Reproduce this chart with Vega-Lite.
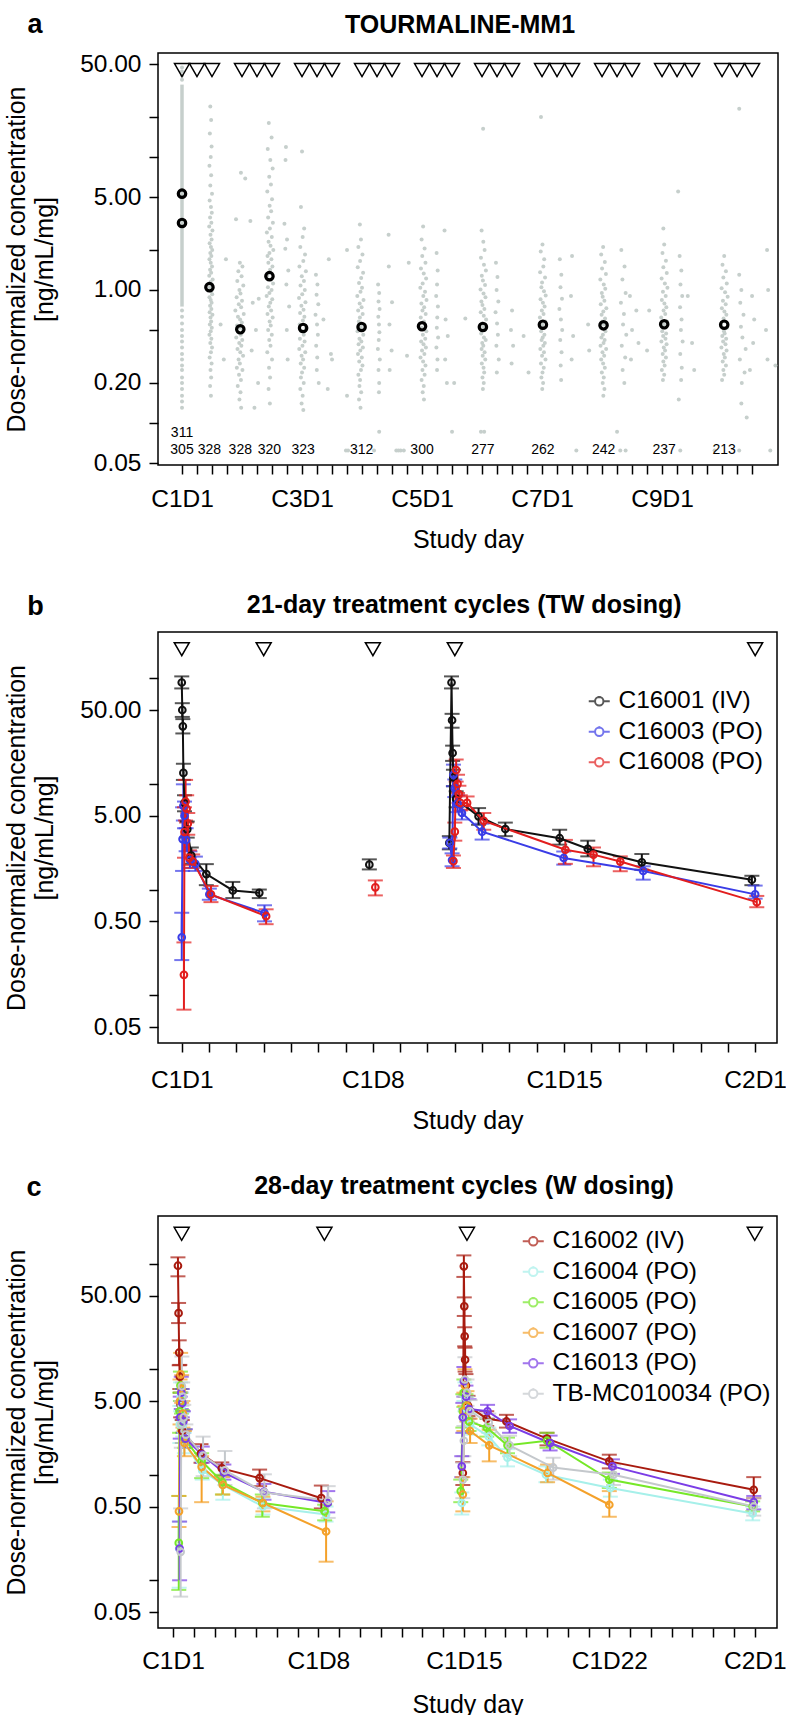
{
"$schema":"https://vega.github.io/schema/vega-lite/v6.json",
"background":"white",
"padding":{"left":3,"right":0,"top":9,"bottom":0},
"spacing":37,
"config":{"font":"Liberation Sans","view":{"stroke":"black","strokeWidth":1.5},
"axis":{"domain":false,"grid":false,"tickColor":"black","tickWidth":1.5,"tickSize":9,"labelFont":"Liberation Sans","labelFontSize":24.5,"labelColor":"black","titleFont":"Liberation Sans","titleFontSize":25,"titleFontWeight":"normal","titleColor":"black","labelOverlap":false,"labelFlush":false,"labelPadding":8}},
"resolve":{"scale":{"color":"independent"},"legend":{"color":"independent"}},
"datasets":{
"pa":[
{"d":0,"c":47},{"d":0,"c":44},{"d":0,"c":41},{"d":0,"c":38},{"d":0,"c":0.7},{"d":0,"c":0.63},{"d":0,"c":0.56},{"d":0,"c":0.5},{"d":0,"c":0.45},{"d":0,"c":0.41},{"d":0,"c":0.37},{"d":0,"c":0.33},{"d":0,"c":0.3},{"d":0,"c":0.27},{"d":0,"c":0.25},{"d":0,"c":0.22},{"d":0,"c":0.2},{"d":0,"c":0.18},{"d":0,"c":0.16},{"d":0,"c":0.145},{"d":0,"c":0.13},
{"d":13.2,"c":24},{"d":13.6,"c":19},{"d":13.0,"c":15},{"d":13.8,"c":12},{"d":13.4,"c":10},{"d":12.8,"c":8.6},{"d":13.6,"c":7.3},{"d":13.2,"c":6.1},{"d":14.0,"c":5.3},{"d":12.9,"c":4.7},{"d":13.5,"c":4.2},{"d":13.9,"c":3.8},{"d":13.1,"c":3.5},{"d":13.7,"c":3.2},{"d":12.7,"c":3.0},{"d":14.2,"c":2.8},{"d":13.3,"c":2.6},{"d":13.8,"c":2.4},{"d":12.9,"c":2.25},{"d":13.5,"c":2.1},{"d":14.1,"c":2.0},{"d":13.2,"c":1.9},{"d":13.7,"c":1.8},{"d":12.8,"c":1.7},{"d":13.4,"c":1.6},{"d":14.0,"c":1.5},{"d":13.1,"c":1.42},{"d":13.6,"c":1.35},{"d":12.7,"c":1.28},{"d":14.3,"c":1.2},{"d":13.3,"c":1.15},{"d":13.9,"c":1.1},{"d":13.0,"c":1.05},{"d":13.6,"c":0.98},{"d":14.1,"c":0.93},{"d":12.8,"c":0.88},{"d":13.4,"c":0.84},{"d":13.8,"c":0.8},{"d":13.1,"c":0.76},{"d":13.7,"c":0.72},{"d":12.9,"c":0.68},{"d":14.2,"c":0.65},{"d":13.3,"c":0.62},{"d":13.6,"c":0.58},{"d":13.0,"c":0.55},{"d":13.9,"c":0.52},{"d":13.4,"c":0.49},{"d":12.8,"c":0.46},{"d":13.7,"c":0.43},{"d":13.2,"c":0.4},{"d":14.0,"c":0.37},{"d":13.5,"c":0.34},{"d":12.9,"c":0.31},{"d":13.8,"c":0.28},{"d":13.3,"c":0.25},{"d":13.6,"c":0.22},{"d":13.1,"c":0.19},{"d":13.5,"c":0.16},{"d":20.5,"c":1.7},{"d":18,"c":0.55},{"d":19.5,"c":0.3},
{"d":27.5,"c":7.6},{"d":29.5,"c":6.9},{"d":25.2,"c":3.4},{"d":27,"c":1.6},{"d":28.2,"c":1.5},{"d":26.3,"c":1.38},{"d":27.8,"c":1.27},{"d":25.8,"c":1.17},{"d":28.6,"c":1.08},{"d":26.8,"c":1.0},{"d":27.3,"c":0.94},{"d":25.5,"c":0.88},{"d":28.0,"c":0.83},{"d":26.5,"c":0.78},{"d":27.6,"c":0.74},{"d":24.9,"c":0.7},{"d":28.8,"c":0.66},{"d":26.1,"c":0.63},{"d":27.1,"c":0.6},{"d":27.9,"c":0.57},{"d":25.7,"c":0.54},{"d":26.9,"c":0.52},{"d":28.4,"c":0.5},{"d":26.3,"c":0.48},{"d":27.4,"c":0.46},{"d":25.3,"c":0.44},{"d":28.1,"c":0.42},{"d":26.7,"c":0.4},{"d":27.7,"c":0.38},{"d":25.9,"c":0.36},{"d":27.2,"c":0.34},{"d":28.5,"c":0.32},{"d":26.4,"c":0.3},{"d":27.0,"c":0.28},{"d":25.6,"c":0.26},{"d":28.2,"c":0.25},{"d":26.6,"c":0.23},{"d":27.5,"c":0.21},{"d":26.0,"c":0.19},{"d":27.3,"c":0.17},{"d":26.8,"c":0.15},{"d":27.6,"c":0.13},{"d":33,"c":0.8},{"d":34.5,"c":0.5},{"d":32.5,"c":0.35},{"d":35.5,"c":0.2},{"d":33.8,"c":0.13},{"d":31.9,"c":3.3},{"d":35.8,"c":0.86},
{"d":40.5,"c":18},{"d":41.8,"c":14},{"d":40.0,"c":11.5},{"d":41.2,"c":9.5},{"d":42.3,"c":8.2},{"d":40.7,"c":7.1},{"d":41.5,"c":6.2},{"d":39.8,"c":5.5},{"d":42.0,"c":4.8},{"d":40.9,"c":4.3},{"d":41.6,"c":3.9},{"d":40.2,"c":3.5},{"d":42.4,"c":3.2},{"d":41.0,"c":2.9},{"d":39.6,"c":2.7},{"d":41.9,"c":2.5},{"d":40.4,"c":2.3},{"d":41.3,"c":2.15},{"d":42.6,"c":2.0},{"d":40.8,"c":1.9},{"d":39.9,"c":1.8},{"d":41.7,"c":1.7},{"d":40.3,"c":1.6},{"d":42.2,"c":1.5},{"d":41.1,"c":1.42},{"d":40.6,"c":1.35},{"d":39.7,"c":1.28},{"d":41.4,"c":1.2},{"d":42.5,"c":1.12},{"d":40.1,"c":1.05},{"d":41.8,"c":1.0},{"d":40.8,"c":0.95},{"d":39.5,"c":0.9},{"d":42.1,"c":0.85},{"d":41.2,"c":0.8},{"d":40.5,"c":0.75},{"d":41.6,"c":0.7},{"d":39.9,"c":0.66},{"d":42.3,"c":0.62},{"d":40.9,"c":0.58},{"d":41.4,"c":0.54},{"d":40.2,"c":0.5},{"d":41.9,"c":0.46},{"d":40.7,"c":0.42},{"d":41.3,"c":0.38},{"d":39.8,"c":0.34},{"d":42.0,"c":0.3},{"d":40.6,"c":0.26},{"d":41.1,"c":0.22},{"d":40.4,"c":0.18},{"d":41.0,"c":0.14},{"d":48.5,"c":11.9},{"d":48.3,"c":9.5},{"d":47.8,"c":3.15},{"d":49,"c":2.4},{"d":48.2,"c":2.04},{"d":49.6,"c":1.4},{"d":48.7,"c":1.1},{"d":50,"c":0.75},{"d":48.9,"c":0.5},{"d":49.3,"c":0.3},
{"d":56,"c":11},{"d":55.5,"c":4.2},{"d":57,"c":2.9},{"d":56.3,"c":2.5},{"d":55.2,"c":2.1},{"d":57.4,"c":1.85},{"d":56.6,"c":1.65},{"d":54.8,"c":1.5},{"d":57.8,"c":1.38},{"d":55.9,"c":1.27},{"d":56.9,"c":1.17},{"d":55.3,"c":1.08},{"d":57.3,"c":1.0},{"d":56.1,"c":0.93},{"d":54.6,"c":0.87},{"d":57.6,"c":0.81},{"d":55.7,"c":0.76},{"d":56.7,"c":0.71},{"d":55.1,"c":0.67},{"d":57.1,"c":0.63},{"d":56.4,"c":0.59},{"d":54.9,"c":0.55},{"d":57.7,"c":0.52},{"d":55.6,"c":0.49},{"d":56.8,"c":0.46},{"d":55.0,"c":0.43},{"d":57.2,"c":0.41},{"d":56.2,"c":0.38},{"d":54.7,"c":0.36},{"d":57.5,"c":0.34},{"d":55.8,"c":0.32},{"d":56.5,"c":0.3},{"d":55.4,"c":0.28},{"d":57.0,"c":0.26},{"d":56.0,"c":0.24},{"d":55.5,"c":0.22},{"d":56.8,"c":0.2},{"d":55.2,"c":0.18},{"d":56.3,"c":0.16},{"d":55.8,"c":0.14},{"d":56.6,"c":0.125},{"d":62.5,"c":1.3},{"d":63.2,"c":1.1},{"d":62.8,"c":0.92},{"d":63.6,"c":0.78},{"d":62.3,"c":0.65},{"d":63.0,"c":0.55},{"d":63.4,"c":0.46},{"d":62.6,"c":0.38},{"d":63.1,"c":0.31},{"d":62.9,"c":0.25},{"d":63.8,"c":0.2},{"d":68.5,"c":1.7},{"d":69.5,"c":0.33},{"d":70,"c":0.3},{"d":68,"c":0.18},{"d":66,"c":0.6},
{"d":83,"c":3.1},{"d":83.5,"c":2.4},{"d":82.3,"c":2.1},{"d":84.2,"c":1.85},{"d":83.1,"c":1.65},{"d":82.0,"c":1.48},{"d":84.5,"c":1.35},{"d":83.6,"c":1.23},{"d":82.6,"c":1.13},{"d":84.0,"c":1.04},{"d":83.3,"c":0.97},{"d":81.8,"c":0.9},{"d":84.7,"c":0.84},{"d":82.9,"c":0.79},{"d":83.8,"c":0.74},{"d":82.2,"c":0.7},{"d":84.3,"c":0.66},{"d":83.0,"c":0.62},{"d":82.5,"c":0.58},{"d":84.1,"c":0.55},{"d":83.4,"c":0.52},{"d":81.9,"c":0.49},{"d":84.6,"c":0.46},{"d":82.8,"c":0.43},{"d":83.7,"c":0.41},{"d":82.4,"c":0.39},{"d":84.4,"c":0.37},{"d":83.2,"c":0.35},{"d":82.1,"c":0.33},{"d":83.9,"c":0.31},{"d":82.7,"c":0.29},{"d":84.2,"c":0.27},{"d":83.5,"c":0.25},{"d":82.3,"c":0.23},{"d":83.1,"c":0.21},{"d":82.8,"c":0.19},{"d":83.6,"c":0.17},{"d":82.6,"c":0.15},{"d":83.3,"c":0.13},{"d":91.5,"c":1.1},{"d":92,"c":0.95},{"d":91.7,"c":0.82},{"d":92.2,"c":0.72},{"d":91.6,"c":0.63},{"d":91.9,"c":0.55},{"d":92.1,"c":0.48},{"d":91.8,"c":0.42},{"d":91.4,"c":0.36},{"d":92.3,"c":0.3},{"d":91.7,"c":0.25},{"d":92,"c":0.2},{"d":91.9,"c":0.17},{"d":96.4,"c":2.6},{"d":96.5,"c":1.5},{"d":98,"c":0.81},{"d":96.8,"c":0.55},{"d":97.8,"c":0.35},{"d":96.9,"c":0.25},{"d":77,"c":2.0},{"d":77,"c":0.16},
{"d":112.5,"c":3.0},{"d":111.8,"c":2.4},{"d":113.2,"c":2.05},{"d":112.1,"c":1.8},{"d":113.6,"c":1.6},{"d":111.5,"c":1.45},{"d":112.8,"c":1.33},{"d":113.9,"c":1.22},{"d":112.3,"c":1.12},{"d":111.2,"c":1.04},{"d":113.4,"c":0.97},{"d":112.6,"c":0.9},{"d":114.1,"c":0.84},{"d":111.7,"c":0.79},{"d":113.0,"c":0.74},{"d":112.2,"c":0.7},{"d":113.7,"c":0.66},{"d":111.4,"c":0.62},{"d":112.9,"c":0.58},{"d":113.3,"c":0.55},{"d":111.9,"c":0.52},{"d":114.0,"c":0.49},{"d":112.4,"c":0.46},{"d":113.5,"c":0.43},{"d":111.6,"c":0.41},{"d":112.7,"c":0.39},{"d":113.8,"c":0.37},{"d":112.0,"c":0.35},{"d":113.1,"c":0.33},{"d":111.3,"c":0.31},{"d":112.5,"c":0.29},{"d":113.6,"c":0.27},{"d":112.2,"c":0.25},{"d":113.2,"c":0.23},{"d":111.8,"c":0.21},{"d":112.8,"c":0.19},{"d":112.3,"c":0.17},{"d":112.9,"c":0.15},{"d":118.8,"c":1.9},{"d":119.3,"c":1.4},{"d":119,"c":1.1},{"d":118.6,"c":0.9},{"d":119.4,"c":0.75},{"d":119.1,"c":0.62},{"d":118.9,"c":0.52},{"d":119.5,"c":0.44},{"d":118.7,"c":0.37},{"d":119.2,"c":0.3},{"d":119,"c":0.25},{"d":122.5,"c":2.8},{"d":123,"c":0.6},{"d":124,"c":0.45},{"d":122.8,"c":0.3},{"d":123.6,"c":0.2},{"d":127,"c":0.2},{"d":105.8,"c":1.6},{"d":105,"c":0.32},
{"d":140.5,"c":16.3},{"d":139.8,"c":2.8},{"d":140.6,"c":2.3},{"d":141.2,"c":2.0},{"d":139.5,"c":1.75},{"d":140.9,"c":1.55},{"d":141.8,"c":1.4},{"d":139.9,"c":1.28},{"d":140.4,"c":1.18},{"d":141.4,"c":1.09},{"d":139.3,"c":1.01},{"d":140.7,"c":0.94},{"d":141.6,"c":0.88},{"d":139.7,"c":0.82},{"d":140.2,"c":0.77},{"d":141.1,"c":0.72},{"d":139.4,"c":0.68},{"d":140.8,"c":0.64},{"d":141.9,"c":0.6},{"d":140.0,"c":0.56},{"d":140.5,"c":0.53},{"d":141.3,"c":0.5},{"d":139.6,"c":0.47},{"d":140.9,"c":0.44},{"d":141.7,"c":0.42},{"d":140.1,"c":0.4},{"d":140.6,"c":0.38},{"d":139.8,"c":0.36},{"d":141.2,"c":0.34},{"d":140.3,"c":0.32},{"d":141.5,"c":0.3},{"d":139.9,"c":0.28},{"d":140.7,"c":0.26},{"d":141.0,"c":0.24},{"d":140.2,"c":0.22},{"d":140.8,"c":0.2},{"d":140.4,"c":0.18},{"d":146.5,"c":1.6},{"d":147.2,"c":1.25},{"d":146.8,"c":1.0},{"d":147.6,"c":0.82},{"d":146.3,"c":0.68},{"d":147,"c":0.56},{"d":147.4,"c":0.46},{"d":146.7,"c":0.38},{"d":147.8,"c":0.3},{"d":146.9,"c":0.24},{"d":154,"c":0.7},{"d":153.5,"c":0.5},{"d":154.5,"c":0.38},{"d":153.8,"c":0.28},{"d":132.2,"c":0.61},
{"d":167.5,"c":20},{"d":168.2,"c":2.2},{"d":167.4,"c":1.95},{"d":169.0,"c":1.7},{"d":168.6,"c":1.5},{"d":167.1,"c":1.36},{"d":169.4,"c":1.24},{"d":168.0,"c":1.14},{"d":167.7,"c":1.05},{"d":168.9,"c":0.98},{"d":169.7,"c":0.91},{"d":167.3,"c":0.85},{"d":168.4,"c":0.8},{"d":169.2,"c":0.75},{"d":167.9,"c":0.7},{"d":168.7,"c":0.66},{"d":167.0,"c":0.62},{"d":169.5,"c":0.58},{"d":168.1,"c":0.55},{"d":168.5,"c":0.52},{"d":167.6,"c":0.49},{"d":169.1,"c":0.46},{"d":168.3,"c":0.44},{"d":167.8,"c":0.42},{"d":169.3,"c":0.4},{"d":168.6,"c":0.38},{"d":167.2,"c":0.36},{"d":168.9,"c":0.34},{"d":168.0,"c":0.32},{"d":169.6,"c":0.3},{"d":167.5,"c":0.28},{"d":168.8,"c":0.26},{"d":168.2,"c":0.24},{"d":167.7,"c":0.22},{"d":168.5,"c":0.2},{"d":168.1,"c":0.18},{"d":176.3,"c":1.7},{"d":177,"c":1.3},{"d":176.6,"c":1.05},{"d":177.3,"c":0.86},{"d":176.1,"c":0.72},{"d":176.8,"c":0.6},{"d":177.4,"c":0.5},{"d":176.5,"c":0.42},{"d":177.1,"c":0.34},{"d":176.7,"c":0.27},{"d":176.9,"c":0.21},{"d":182,"c":1.8},{"d":181.5,"c":0.9},{"d":182.5,"c":0.45},{"d":181.8,"c":0.3},{"d":159.4,"c":0.45},{"d":161.7,"c":0.24},
{"d":196.5,"c":2.1},{"d":195.6,"c":1.85},{"d":197.3,"c":1.62},{"d":196.0,"c":1.45},{"d":197.8,"c":1.32},{"d":195.2,"c":1.2},{"d":196.8,"c":1.1},{"d":197.5,"c":1.02},{"d":195.9,"c":0.95},{"d":196.3,"c":0.89},{"d":197.1,"c":0.83},{"d":195.4,"c":0.78},{"d":198.0,"c":0.73},{"d":196.6,"c":0.69},{"d":195.8,"c":0.65},{"d":197.4,"c":0.61},{"d":196.1,"c":0.58},{"d":196.9,"c":0.55},{"d":195.5,"c":0.52},{"d":197.6,"c":0.49},{"d":196.4,"c":0.46},{"d":195.7,"c":0.44},{"d":197.2,"c":0.42},{"d":196.7,"c":0.4},{"d":195.3,"c":0.38},{"d":197.9,"c":0.36},{"d":196.2,"c":0.34},{"d":197.0,"c":0.32},{"d":195.6,"c":0.3},{"d":196.5,"c":0.28},{"d":197.3,"c":0.26},{"d":195.9,"c":0.24},{"d":196.8,"c":0.22},{"d":196.3,"c":0.2},{"d":197.1,"c":0.18},{"d":196.6,"c":0.16},{"d":205,"c":2.0},{"d":206.5,"c":1.5},{"d":205.5,"c":1.2},{"d":207,"c":0.95},{"d":204.8,"c":0.8},{"d":206.2,"c":0.66},{"d":205.8,"c":0.55},{"d":207.3,"c":0.46},{"d":205.2,"c":0.38},{"d":206.8,"c":0.31},{"d":205.6,"c":0.25},{"d":206.4,"c":0.2},{"d":209,"c":0.9},{"d":210,"c":0.5},{"d":209.5,"c":0.3},{"d":189.5,"c":0.55},{"d":190,"c":0.35},{"d":212,"c":0.7},{"d":213,"c":0.4},
{"d":231.5,"c":5.5},{"d":224.6,"c":2.9},{"d":225.0,"c":2.2},{"d":224.2,"c":1.9},{"d":225.8,"c":1.66},{"d":224.6,"c":1.48},{"d":226.2,"c":1.34},{"d":223.8,"c":1.22},{"d":225.3,"c":1.12},{"d":226.5,"c":1.04},{"d":224.4,"c":0.97},{"d":225.7,"c":0.9},{"d":223.9,"c":0.84},{"d":225.1,"c":0.79},{"d":226.0,"c":0.74},{"d":224.7,"c":0.7},{"d":225.5,"c":0.66},{"d":223.6,"c":0.62},{"d":226.3,"c":0.58},{"d":224.9,"c":0.55},{"d":225.2,"c":0.52},{"d":224.1,"c":0.49},{"d":225.9,"c":0.47},{"d":224.5,"c":0.45},{"d":225.6,"c":0.43},{"d":223.7,"c":0.41},{"d":226.1,"c":0.39},{"d":224.8,"c":0.37},{"d":225.4,"c":0.35},{"d":224.3,"c":0.33},{"d":225.8,"c":0.31},{"d":224.6,"c":0.29},{"d":225.2,"c":0.27},{"d":223.9,"c":0.25},{"d":225.0,"c":0.23},{"d":224.4,"c":0.21},{"d":232.2,"c":1.8},{"d":233,"c":1.4},{"d":232.6,"c":1.1},{"d":233.4,"c":0.9},{"d":232.4,"c":0.74},{"d":233.1,"c":0.6},{"d":232.8,"c":0.5},{"d":233.6,"c":0.41},{"d":232.5,"c":0.33},{"d":233.2,"c":0.26},{"d":232.9,"c":0.21},{"d":231.8,"c":0.15},{"d":218,"c":0.7},{"d":217,"c":0.35},{"d":238,"c":0.4},{"d":239,"c":0.25},{"d":236,"c":0.9},
{"d":260,"c":23},{"d":253.0,"c":1.8},{"d":252.2,"c":1.55},{"d":253.8,"c":1.38},{"d":252.6,"c":1.24},{"d":254.2,"c":1.12},{"d":251.8,"c":1.03},{"d":253.4,"c":0.96},{"d":254.6,"c":0.89},{"d":252.4,"c":0.83},{"d":253.7,"c":0.78},{"d":251.9,"c":0.73},{"d":253.1,"c":0.69},{"d":254.0,"c":0.65},{"d":252.7,"c":0.61},{"d":253.5,"c":0.58},{"d":251.6,"c":0.55},{"d":254.3,"c":0.52},{"d":252.9,"c":0.49},{"d":253.2,"c":0.47},{"d":252.1,"c":0.45},{"d":253.9,"c":0.43},{"d":252.5,"c":0.41},{"d":253.6,"c":0.39},{"d":251.7,"c":0.37},{"d":254.1,"c":0.35},{"d":252.8,"c":0.33},{"d":253.3,"c":0.31},{"d":252.3,"c":0.29},{"d":253.8,"c":0.27},{"d":252.6,"c":0.25},{"d":253.0,"c":0.23},{"d":252.0,"c":0.21},{"d":260,"c":1.3},{"d":261,"c":1.0},{"d":260.5,"c":0.8},{"d":262,"c":0.65},{"d":260.8,"c":0.53},{"d":261.5,"c":0.44},{"d":263,"c":0.36},{"d":260.3,"c":0.3},{"d":262.5,"c":0.24},{"d":261.2,"c":0.2},{"d":266,"c":0.9},{"d":267,"c":0.6},{"d":266.5,"c":0.4},{"d":265,"c":0.25},{"d":261,"c":0.14},{"d":263.5,"c":0.11},{"d":273,"c":2.0},{"d":273.5,"c":1.0},{"d":272.5,"c":0.5},{"d":273.2,"c":0.3},{"d":276.9,"c":0.27},
{"d":76.5,"c":0.062},{"d":77.5,"c":0.062},{"d":89.6,"c":0.062},{"d":100,"c":0.062},{"d":101,"c":0.062},{"d":102,"c":0.062},{"d":103.5,"c":0.062},{"d":184,"c":0.062},{"d":204.5,"c":0.062},{"d":207,"c":0.062},{"d":232.5,"c":0.062},{"d":248.5,"c":0.062},{"d":260,"c":0.062},{"d":274.5,"c":0.062},{"d":139.5,"c":0.086},{"d":141,"c":0.086},{"d":92,"c":0.086},{"d":126,"c":0.086},{"d":203,"c":0.086}
],
"pb":[
{"s":"C16001 (IV)","g":1,"d":0,"m":91,"lo":80,"hi":104},{"s":"C16001 (IV)","g":1,"d":0.02,"m":50,"lo":43,"hi":58},{"s":"C16001 (IV)","g":1,"d":0.04,"m":35,"lo":30,"hi":41},{"s":"C16001 (IV)","g":1,"d":0.06,"m":12.7,"lo":10.9,"hi":15.5},{"s":"C16001 (IV)","g":1,"d":0.1,"m":6.6,"lo":5.5,"hi":7.8},{"s":"C16001 (IV)","g":1,"d":0.2,"m":3.7,"lo":3.1,"hi":4.4},{"s":"C16001 (IV)","g":1,"d":0.35,"m":2.1,"lo":1.75,"hi":2.5},{"s":"C16001 (IV)","g":1,"d":0.9,"m":1.4,"lo":1.1,"hi":1.74},{"s":"C16001 (IV)","g":1,"d":1.87,"m":0.98,"lo":0.83,"hi":1.18},{"s":"C16001 (IV)","g":1,"d":2.84,"m":0.93,"lo":0.83,"hi":1.0},
{"s":"C16001 (IV)","g":2,"d":6.87,"m":1.72,"lo":1.55,"hi":1.93},
{"s":"C16001 (IV)","g":3,"d":9.8,"m":2.76,"lo":2.4,"hi":3.2},{"s":"C16001 (IV)","g":3,"d":9.88,"m":91,"lo":80,"hi":104},{"s":"C16001 (IV)","g":3,"d":9.9,"m":40,"lo":34,"hi":46},{"s":"C16001 (IV)","g":3,"d":9.92,"m":19.6,"lo":16.5,"hi":23},{"s":"C16001 (IV)","g":3,"d":9.95,"m":11.5,"lo":9.5,"hi":13.6},{"s":"C16001 (IV)","g":3,"d":10.05,"m":7.2,"lo":6,"hi":8.5},{"s":"C16001 (IV)","g":3,"d":10.87,"m":4.93,"lo":4.1,"hi":5.9},{"s":"C16001 (IV)","g":3,"d":11.85,"m":3.74,"lo":3.2,"hi":4.3},{"s":"C16001 (IV)","g":3,"d":13.84,"m":3.06,"lo":2.66,"hi":3.68},{"s":"C16001 (IV)","g":3,"d":14.87,"m":2.43,"lo":2.06,"hi":2.9},{"s":"C16001 (IV)","g":3,"d":16.85,"m":1.81,"lo":1.54,"hi":2.17},{"s":"C16001 (IV)","g":3,"d":20.88,"m":1.24,"lo":1.1,"hi":1.35},
{"s":"C16003 (PO)","g":1,"d":0,"m":0.353,"lo":0.215,"hi":0.603},{"s":"C16003 (PO)","g":1,"d":0.03,"m":3.0,"lo":1.5,"hi":6.0},{"s":"C16003 (PO)","g":1,"d":0.06,"m":6.2,"lo":4.5,"hi":9.9},{"s":"C16003 (PO)","g":1,"d":0.1,"m":5.0,"lo":3.8,"hi":6.8},{"s":"C16003 (PO)","g":1,"d":0.16,"m":2.95,"lo":2.3,"hi":3.8},{"s":"C16003 (PO)","g":1,"d":0.3,"m":1.9,"lo":1.6,"hi":2.3},{"s":"C16003 (PO)","g":1,"d":0.5,"m":1.75,"lo":1.5,"hi":2.05},{"s":"C16003 (PO)","g":1,"d":1.01,"m":0.9,"lo":0.8,"hi":1.02},{"s":"C16003 (PO)","g":1,"d":3.03,"m":0.6,"lo":0.5,"hi":0.71},
{"s":"C16003 (PO)","g":3,"d":9.82,"m":2.76,"lo":2.45,"hi":3.1},{"s":"C16003 (PO)","g":3,"d":9.9,"m":1.9,"lo":1.66,"hi":2.2},{"s":"C16003 (PO)","g":3,"d":9.95,"m":12.2,"lo":9.5,"hi":15.2},{"s":"C16003 (PO)","g":3,"d":10.0,"m":9.1,"lo":7.5,"hi":11},{"s":"C16003 (PO)","g":3,"d":10.1,"m":6.5,"lo":5.4,"hi":7.8},{"s":"C16003 (PO)","g":3,"d":10.26,"m":5.3,"lo":4.6,"hi":6.1},{"s":"C16003 (PO)","g":3,"d":11.0,"m":3.53,"lo":2.97,"hi":4.2},{"s":"C16003 (PO)","g":3,"d":13.99,"m":1.99,"lo":1.72,"hi":2.29},{"s":"C16003 (PO)","g":3,"d":16.9,"m":1.5,"lo":1.24,"hi":1.66},{"s":"C16003 (PO)","g":3,"d":21.0,"m":0.9,"lo":0.82,"hi":1.09},
{"s":"C16008 (PO)","g":1,"d":0.08,"m":0.156,"lo":0.073,"hi":0.316},{"s":"C16008 (PO)","g":1,"d":0.1,"m":3.5,"lo":2.0,"hi":6.0},{"s":"C16008 (PO)","g":1,"d":0.14,"m":6.8,"lo":4.5,"hi":10.9},{"s":"C16008 (PO)","g":1,"d":0.18,"m":5.8,"lo":4.3,"hi":7.8},{"s":"C16008 (PO)","g":1,"d":0.22,"m":4.2,"lo":3.3,"hi":5.3},{"s":"C16008 (PO)","g":1,"d":0.28,"m":2.0,"lo":1.7,"hi":2.35},{"s":"C16008 (PO)","g":1,"d":0.4,"m":1.85,"lo":1.6,"hi":2.15},{"s":"C16008 (PO)","g":1,"d":1.07,"m":0.9,"lo":0.76,"hi":1.08},{"s":"C16008 (PO)","g":1,"d":3.09,"m":0.56,"lo":0.47,"hi":0.65},
{"s":"C16008 (PO)","g":2,"d":7.09,"m":1.05,"lo":0.88,"hi":1.22},
{"s":"C16008 (PO)","g":3,"d":9.95,"m":1.86,"lo":1.6,"hi":2.1},{"s":"C16008 (PO)","g":3,"d":10.0,"m":3.53,"lo":2.9,"hi":4.3},{"s":"C16008 (PO)","g":3,"d":10.05,"m":13.5,"lo":10.5,"hi":17},{"s":"C16008 (PO)","g":3,"d":10.1,"m":10,"lo":8.2,"hi":12.2},{"s":"C16008 (PO)","g":3,"d":10.15,"m":8,"lo":6.6,"hi":9.6},{"s":"C16008 (PO)","g":3,"d":10.2,"m":6.6,"lo":5.6,"hi":7.8},{"s":"C16008 (PO)","g":3,"d":10.45,"m":6.6,"lo":5.7,"hi":7.6},{"s":"C16008 (PO)","g":3,"d":11.06,"m":4.47,"lo":3.68,"hi":5.3},{"s":"C16008 (PO)","g":3,"d":14.05,"m":2.38,"lo":1.75,"hi":2.95},{"s":"C16008 (PO)","g":3,"d":15.08,"m":2.14,"lo":1.66,"hi":2.5},{"s":"C16008 (PO)","g":3,"d":16.06,"m":1.84,"lo":1.49,"hi":2.06},{"s":"C16008 (PO)","g":3,"d":21.06,"m":0.76,"lo":0.68,"hi":0.87}
],
"pc":[
{"s":"C16002 (IV)","g":1,"d":0.24,"m":95.8,"lo":76,"hi":115},{"s":"C16002 (IV)","g":1,"d":0.27,"m":34,"lo":27.4,"hi":42.5},{"s":"C16002 (IV)","g":1,"d":0.3,"m":14.4,"lo":10.9,"hi":18.8},{"s":"C16002 (IV)","g":1,"d":0.33,"m":8.5,"lo":6.5,"hi":11},{"s":"C16002 (IV)","g":1,"d":0.37,"m":4.6,"lo":3.5,"hi":6},{"s":"C16002 (IV)","g":1,"d":0.45,"m":2.6,"lo":2,"hi":3.3},{"s":"C16002 (IV)","g":1,"d":1.35,"m":1.6,"lo":1.3,"hi":1.95},{"s":"C16002 (IV)","g":1,"d":2.35,"m":1.15,"lo":0.98,"hi":1.31},{"s":"C16002 (IV)","g":1,"d":4.17,"m":0.93,"lo":0.78,"hi":1.12},{"s":"C16002 (IV)","g":1,"d":7.14,"m":0.6,"lo":0.48,"hi":0.79},
{"s":"C16002 (IV)","g":2,"d":13.95,"m":1.04,"lo":0.8,"hi":1.32},{"s":"C16002 (IV)","g":2,"d":14.0,"m":94.5,"lo":75,"hi":120},{"s":"C16002 (IV)","g":2,"d":14.02,"m":39.5,"lo":32,"hi":48},{"s":"C16002 (IV)","g":2,"d":14.04,"m":20.5,"lo":16.5,"hi":25},{"s":"C16002 (IV)","g":2,"d":14.06,"m":12.3,"lo":9.5,"hi":16},{"s":"C16002 (IV)","g":2,"d":14.1,"m":7,"lo":5.5,"hi":9},{"s":"C16002 (IV)","g":2,"d":14.2,"m":4.5,"lo":3.6,"hi":5.6},{"s":"C16002 (IV)","g":2,"d":15.1,"m":3.4,"lo":2.9,"hi":4.0},{"s":"C16002 (IV)","g":2,"d":16.05,"m":3.2,"lo":2.8,"hi":3.7},{"s":"C16002 (IV)","g":2,"d":18.0,"m":2.2,"lo":1.9,"hi":2.5},{"s":"C16002 (IV)","g":2,"d":21.0,"m":1.34,"lo":1.15,"hi":1.55},{"s":"C16002 (IV)","g":2,"d":27.95,"m":0.72,"lo":0.6,"hi":0.95},
{"s":"C16004 (PO)","g":1,"d":0.3,"m":0.2,"lo":0.085,"hi":0.36},{"s":"C16004 (PO)","g":1,"d":0.33,"m":3.0,"lo":2.0,"hi":4.5},{"s":"C16004 (PO)","g":1,"d":0.37,"m":5.5,"lo":4.0,"hi":7.5},{"s":"C16004 (PO)","g":1,"d":0.42,"m":4.5,"lo":3.3,"hi":6.0},{"s":"C16004 (PO)","g":1,"d":0.47,"m":3.0,"lo":2.3,"hi":3.9},{"s":"C16004 (PO)","g":1,"d":0.55,"m":2.0,"lo":1.6,"hi":2.5},{"s":"C16004 (PO)","g":1,"d":1.41,"m":1.1,"lo":0.9,"hi":1.35},{"s":"C16004 (PO)","g":1,"d":2.4,"m":0.8,"lo":0.58,"hi":0.95},{"s":"C16004 (PO)","g":1,"d":4.33,"m":0.5,"lo":0.42,"hi":0.6},{"s":"C16004 (PO)","g":1,"d":7.37,"m":0.42,"lo":0.36,"hi":0.5},
{"s":"C16004 (PO)","g":2,"d":13.9,"m":0.54,"lo":0.42,"hi":0.68},{"s":"C16004 (PO)","g":2,"d":14.0,"m":3.5,"lo":2.5,"hi":5.0},{"s":"C16004 (PO)","g":2,"d":14.05,"m":5.5,"lo":4.0,"hi":7.5},{"s":"C16004 (PO)","g":2,"d":14.15,"m":4.2,"lo":3.2,"hi":5.5},{"s":"C16004 (PO)","g":2,"d":14.3,"m":3.0,"lo":2.4,"hi":3.8},{"s":"C16004 (PO)","g":2,"d":15.2,"m":2.3,"lo":1.9,"hi":2.8},{"s":"C16004 (PO)","g":2,"d":16.1,"m":1.45,"lo":1.2,"hi":1.75},{"s":"C16004 (PO)","g":2,"d":17.95,"m":1.0,"lo":0.85,"hi":1.2},{"s":"C16004 (PO)","g":2,"d":21.05,"m":0.75,"lo":0.62,"hi":0.9},{"s":"C16004 (PO)","g":2,"d":27.9,"m":0.43,"lo":0.37,"hi":0.5},
{"s":"C16005 (PO)","g":1,"d":0.28,"m":0.226,"lo":0.081,"hi":0.63},{"s":"C16005 (PO)","g":1,"d":0.32,"m":4.0,"lo":2.5,"hi":6.0},{"s":"C16005 (PO)","g":1,"d":0.36,"m":7.0,"lo":5.0,"hi":9.5},{"s":"C16005 (PO)","g":1,"d":0.41,"m":5.0,"lo":3.8,"hi":6.5},{"s":"C16005 (PO)","g":1,"d":0.46,"m":3.2,"lo":2.5,"hi":4.1},{"s":"C16005 (PO)","g":1,"d":0.55,"m":2.2,"lo":1.8,"hi":2.7},{"s":"C16005 (PO)","g":1,"d":1.38,"m":1.35,"lo":0.93,"hi":1.6},{"s":"C16005 (PO)","g":1,"d":2.38,"m":0.85,"lo":0.65,"hi":1.0},{"s":"C16005 (PO)","g":1,"d":4.3,"m":0.54,"lo":0.4,"hi":0.65},{"s":"C16005 (PO)","g":1,"d":7.3,"m":0.45,"lo":0.37,"hi":0.52},
{"s":"C16005 (PO)","g":2,"d":13.85,"m":0.7,"lo":0.55,"hi":0.9},{"s":"C16005 (PO)","g":2,"d":13.95,"m":4.0,"lo":2.8,"hi":5.8},{"s":"C16005 (PO)","g":2,"d":14.0,"m":6.0,"lo":4.4,"hi":8.0},{"s":"C16005 (PO)","g":2,"d":14.1,"m":4.5,"lo":3.5,"hi":5.8},{"s":"C16005 (PO)","g":2,"d":14.25,"m":3.2,"lo":2.6,"hi":4.0},{"s":"C16005 (PO)","g":2,"d":15.1,"m":2.8,"lo":2.3,"hi":3.4},{"s":"C16005 (PO)","g":2,"d":16.1,"m":1.9,"lo":1.6,"hi":2.25},{"s":"C16005 (PO)","g":2,"d":18.0,"m":2.1,"lo":1.8,"hi":2.5},{"s":"C16005 (PO)","g":2,"d":21.0,"m":0.9,"lo":0.75,"hi":1.05},{"s":"C16005 (PO)","g":2,"d":27.9,"m":0.5,"lo":0.45,"hi":0.56},
{"s":"C16007 (PO)","g":1,"d":0.29,"m":0.45,"lo":0.32,"hi":0.63},{"s":"C16007 (PO)","g":1,"d":0.34,"m":5.0,"lo":3.0,"hi":8.0},{"s":"C16007 (PO)","g":1,"d":0.37,"m":8.93,"lo":6.0,"hi":14.3},{"s":"C16007 (PO)","g":1,"d":0.42,"m":6.5,"lo":4.8,"hi":8.8},{"s":"C16007 (PO)","g":1,"d":0.48,"m":3.8,"lo":2.8,"hi":5.0},{"s":"C16007 (PO)","g":1,"d":0.55,"m":2.0,"lo":1.5,"hi":2.6},{"s":"C16007 (PO)","g":1,"d":1.38,"m":1.19,"lo":0.55,"hi":1.5},{"s":"C16007 (PO)","g":1,"d":2.4,"m":0.8,"lo":0.65,"hi":0.95},{"s":"C16007 (PO)","g":1,"d":4.33,"m":0.54,"lo":0.45,"hi":0.62},{"s":"C16007 (PO)","g":1,"d":7.37,"m":0.29,"lo":0.15,"hi":0.56},
{"s":"C16007 (PO)","g":2,"d":13.95,"m":0.65,"lo":0.45,"hi":0.95},{"s":"C16007 (PO)","g":2,"d":14.0,"m":4.0,"lo":2.6,"hi":6.0},{"s":"C16007 (PO)","g":2,"d":14.05,"m":7.0,"lo":4.5,"hi":10},{"s":"C16007 (PO)","g":2,"d":14.15,"m":4.5,"lo":3.2,"hi":6.2},{"s":"C16007 (PO)","g":2,"d":14.3,"m":2.6,"lo":2.0,"hi":3.4},{"s":"C16007 (PO)","g":2,"d":15.22,"m":1.9,"lo":1.34,"hi":2.67},{"s":"C16007 (PO)","g":2,"d":18.03,"m":1.04,"lo":0.85,"hi":1.25},{"s":"C16007 (PO)","g":2,"d":21.0,"m":0.52,"lo":0.4,"hi":0.7},
{"s":"C16013 (PO)","g":1,"d":0.32,"m":0.2,"lo":0.1,"hi":0.36},{"s":"C16013 (PO)","g":1,"d":0.35,"m":3.5,"lo":2.2,"hi":5.5},{"s":"C16013 (PO)","g":1,"d":0.4,"m":6.0,"lo":4.2,"hi":8.5},{"s":"C16013 (PO)","g":1,"d":0.45,"m":4.8,"lo":3.5,"hi":6.5},{"s":"C16013 (PO)","g":1,"d":0.5,"m":3.2,"lo":2.5,"hi":4.0},{"s":"C16013 (PO)","g":1,"d":0.6,"m":2.2,"lo":1.8,"hi":2.7},{"s":"C16013 (PO)","g":1,"d":1.41,"m":1.55,"lo":1.3,"hi":1.85},{"s":"C16013 (PO)","g":1,"d":2.45,"m":1.05,"lo":0.9,"hi":1.25},{"s":"C16013 (PO)","g":1,"d":4.38,"m":0.69,"lo":0.58,"hi":0.82},{"s":"C16013 (PO)","g":1,"d":7.45,"m":0.54,"lo":0.44,"hi":0.7},
{"s":"C16013 (PO)","g":2,"d":13.9,"m":1.2,"lo":0.95,"hi":1.5},{"s":"C16013 (PO)","g":2,"d":13.95,"m":3.5,"lo":2.5,"hi":4.8},{"s":"C16013 (PO)","g":2,"d":14.0,"m":7.7,"lo":5.5,"hi":10.5},{"s":"C16013 (PO)","g":2,"d":14.1,"m":5.5,"lo":4.2,"hi":7.0},{"s":"C16013 (PO)","g":2,"d":14.25,"m":4.2,"lo":3.4,"hi":5.2},{"s":"C16013 (PO)","g":2,"d":15.14,"m":4.0,"lo":3.4,"hi":4.6},{"s":"C16013 (PO)","g":2,"d":16.2,"m":2.9,"lo":2.5,"hi":3.35},{"s":"C16013 (PO)","g":2,"d":18.15,"m":2.0,"lo":1.7,"hi":2.35},{"s":"C16013 (PO)","g":2,"d":21.15,"m":1.2,"lo":1.02,"hi":1.4},{"s":"C16013 (PO)","g":2,"d":27.95,"m":0.55,"lo":0.47,"hi":0.63},
{"s":"TB-MC010034 (PO)","g":1,"d":0.37,"m":0.186,"lo":0.07,"hi":0.48},{"s":"TB-MC010034 (PO)","g":1,"d":0.4,"m":3.0,"lo":1.8,"hi":5.0},{"s":"TB-MC010034 (PO)","g":1,"d":0.43,"m":6.9,"lo":4.5,"hi":13.2},{"s":"TB-MC010034 (PO)","g":1,"d":0.47,"m":5.5,"lo":4.0,"hi":7.5},{"s":"TB-MC010034 (PO)","g":1,"d":0.52,"m":3.5,"lo":2.6,"hi":4.6},{"s":"TB-MC010034 (PO)","g":1,"d":0.62,"m":2.4,"lo":1.9,"hi":3.0},{"s":"TB-MC010034 (PO)","g":1,"d":1.45,"m":1.52,"lo":0.97,"hi":2.3},{"s":"TB-MC010034 (PO)","g":1,"d":2.5,"m":1.1,"lo":0.8,"hi":1.68},{"s":"TB-MC010034 (PO)","g":1,"d":4.4,"m":0.68,"lo":0.48,"hi":1.01},{"s":"TB-MC010034 (PO)","g":1,"d":7.47,"m":0.57,"lo":0.39,"hi":0.78},
{"s":"TB-MC010034 (PO)","g":2,"d":13.95,"m":0.9,"lo":0.6,"hi":1.3},{"s":"TB-MC010034 (PO)","g":2,"d":14.0,"m":2.1,"lo":1.5,"hi":2.9},{"s":"TB-MC010034 (PO)","g":2,"d":14.05,"m":8.0,"lo":5.5,"hi":13},{"s":"TB-MC010034 (PO)","g":2,"d":14.15,"m":6.0,"lo":4.5,"hi":8.0},{"s":"TB-MC010034 (PO)","g":2,"d":14.3,"m":4.0,"lo":3.1,"hi":5.1},{"s":"TB-MC010034 (PO)","g":2,"d":15.2,"m":3.1,"lo":2.5,"hi":3.8},{"s":"TB-MC010034 (PO)","g":2,"d":16.2,"m":1.9,"lo":1.5,"hi":2.35},{"s":"TB-MC010034 (PO)","g":2,"d":18.3,"m":1.17,"lo":0.9,"hi":1.45},{"s":"TB-MC010034 (PO)","g":2,"d":21.2,"m":1.0,"lo":0.8,"hi":1.25},{"s":"TB-MC010034 (PO)","g":2,"d":27.95,"m":0.5,"lo":0.41,"hi":0.6}
]
},
"vconcat":[
{
"width":620,"height":412,
"resolve":{"axis":{"x":"independent","y":"independent"}},
"layer":[
{"data":{"values":[{"d":0,"lo":0.75,"hi":35}]},
"mark":{"type":"rule","color":"#c6cfcc","strokeWidth":3.5},
"encoding":{
"x":{"field":"d","type":"quantitative","scale":{"domain":[-11.2,278.1],"nice":false,"zero":false},
"axis":{"orient":"bottom","values":[0,7,14,21,28,35,42,49,56,63,70,77,84,91,98,105,112,119,126,133,140,147,154,161,168,175,182,189,196,203,210,217,224,231,238,245,252,259,266],"labelExpr":"datum.value % 56 === 0 && datum.value <= 224 ? 'C' + (datum.value / 28 + 1) + 'D1' : ''","labelPadding":13,"title":"Study day","titleY":82.3,"titleBaseline":"alphabetic"}},
"y":{"field":"lo","type":"quantitative","scale":{"type":"log","domain":[0.0483,60.5],"nice":false},
"axis":{"orient":"left","values":[50,20,10,5,2,1,0.5,0.2,0.1,0.05],"labelExpr":"indexof([50,5,1,0.2,0.05], datum.value) >= 0 ? format(datum.value, '.2f') : ''","title":["Dose-normalized concentration","[ng/mL/mg]"],"titleX":-128.5,"titleY":206,"titleAngle":270,"titleAlign":"center","titleBaseline":"bottom","titleLineHeight":28}},
"y2":{"field":"hi"}}},
{"data":{"name":"pa"},
"mark":{"type":"circle","color":"#c6cfcc","size":16,"opacity":1},
"encoding":{"x":{"field":"d","type":"quantitative","axis":null},"y":{"field":"c","type":"quantitative","axis":null}}},
{"data":{"values":[{"d":0,"m":5.3},{"d":0,"m":3.19},{"d":12.8,"m":1.05},{"d":27.2,"m":0.506},{"d":40.8,"m":1.27},{"d":56.5,"m":0.518},{"d":83.8,"m":0.527},{"d":112,"m":0.533},{"d":140.4,"m":0.527},{"d":168.4,"m":0.548},{"d":196.7,"m":0.542},{"d":225,"m":0.552},{"d":253,"m":0.548}]},
"mark":{"type":"point","filled":false,"color":"black","strokeWidth":3.2,"size":55,"opacity":1},
"encoding":{
"x":{"field":"d","type":"quantitative","axis":{"orient":"top","labels":false,"ticks":false,"domain":false,"title":"TOURMALINE-MM1","titleFontWeight":"bold","titleFontSize":25,"titleX":301.5,"titleY":-21,"titleAlign":"center","titleBaseline":"alphabetic"}},
"y":{"field":"m","type":"quantitative","axis":{"orient":"right","labels":false,"ticks":false,"domain":false,"title":"a","titleAngle":0,"titleFontWeight":"bold","titleFontSize":27,"titleX":-743.5,"titleY":-21,"titleAlign":"center","titleBaseline":"alphabetic"}}}},
{"data":{"values":[{"d":0},{"d":7},{"d":14},{"d":28},{"d":35},{"d":42},{"d":56},{"d":63},{"d":70},{"d":84},{"d":91},{"d":98},{"d":112},{"d":119},{"d":126},{"d":140},{"d":147},{"d":154},{"d":168},{"d":175},{"d":182},{"d":196},{"d":203},{"d":210},{"d":224},{"d":231},{"d":238},{"d":252},{"d":259},{"d":266}]},
"mark":{"type":"point","shape":"triangle-down","filled":false,"color":"black","strokeWidth":1.5,"size":225,"opacity":1},
"encoding":{"x":{"field":"d","type":"quantitative","axis":null},"y":{"datum":45,"type":"quantitative","axis":null}}},
{"data":{"values":[{"d":0,"n":"305"},{"d":12.8,"n":"328"},{"d":27.2,"n":"328"},{"d":40.8,"n":"320"},{"d":56.5,"n":"323"},{"d":83.8,"n":"312"},{"d":112,"n":"300"},{"d":140.4,"n":"277"},{"d":168.4,"n":"262"},{"d":196.7,"n":"242"},{"d":225,"n":"237"},{"d":253,"n":"213"}]},
"mark":{"type":"text","font":"Liberation Sans","fontSize":14,"color":"black","baseline":"middle"},
"encoding":{"x":{"field":"d","type":"quantitative","axis":null},"y":{"datum":0.0622,"type":"quantitative","axis":null},"text":{"field":"n"}}},
{"data":{"values":[{"d":0,"n":"311"}]},
"mark":{"type":"text","font":"Liberation Sans","fontSize":14,"color":"black","baseline":"middle"},
"encoding":{"x":{"field":"d","type":"quantitative","axis":null},"y":{"datum":0.0845,"type":"quantitative","axis":null},"text":{"field":"n"}}}
]},
{
"width":619,"height":411,
"resolve":{"axis":{"x":"independent","y":"independent"}},
"layer":[
{"data":{"values":[{"d":0},{"d":3},{"d":7},{"d":10},{"d":21}]},
"mark":{"type":"point","shape":"triangle-down","filled":false,"color":"black","strokeWidth":1.5,"size":225,"opacity":1},
"encoding":{"x":{"field":"d","type":"quantitative","scale":{"domain":[-0.87,21.8],"nice":false,"zero":false},"axis":null},"y":{"datum":188,"type":"quantitative","scale":{"type":"log","domain":[0.0353,273.6],"nice":false},"axis":null}}},
{"data":{"name":"pb"},
"mark":{"type":"errorbar","ticks":{"size":15,"thickness":2},"thickness":2},
"encoding":{"x":{"field":"d","type":"quantitative","axis":null},"y":{"field":"lo","type":"quantitative","axis":null},"y2":{"field":"hi"},
"color":{"field":"s","type":"nominal","scale":{"domain":["C16001 (IV)","C16003 (PO)","C16008 (PO)"],"range":["#111111","#3a3ce6","#e21e1e"]}}}},
{"data":{"name":"pb"},
"mark":{"type":"line","strokeWidth":2},
"encoding":{"x":{"field":"d","type":"quantitative","axis":{"orient":"top","labels":false,"ticks":false,"domain":false,"title":"21-day treatment cycles (TW dosing)","titleFontWeight":"bold","titleFontSize":25,"titleX":305.7,"titleY":-19.3,"titleAlign":"center","titleBaseline":"alphabetic"}},
"y":{"field":"m","type":"quantitative","axis":{"orient":"right","labels":false,"ticks":false,"domain":false,"title":"b","titleAngle":0,"titleFontWeight":"bold","titleFontSize":27,"titleX":-742,"titleY":-17.3,"titleAlign":"center","titleBaseline":"alphabetic"}},
"color":{"field":"s","type":"nominal"},"detail":{"field":"g","type":"nominal"}}},
{"data":{"name":"pb"},
"mark":{"type":"point","filled":false,"strokeWidth":2,"size":45,"opacity":1},
"encoding":{"x":{"field":"d","type":"quantitative","axis":{"orient":"bottom","values":[0,1,2,3,4,5,6,7,8,9,10,11,12,13,14,15,16,17,18,19,20,21],"labelExpr":"datum.value === 0 ? 'C1D1' : datum.value === 7 ? 'C1D8' : datum.value === 14 ? 'C1D15' : datum.value === 21 ? 'C2D1' : ''","labelPadding":16,"title":"Study day","titleY":85.3,"titleBaseline":"alphabetic"}},
"y":{"field":"m","type":"quantitative","axis":{"orient":"left","values":[100,50,10,5,1,0.5,0.1,0.05],"labelExpr":"indexof([50,5,0.5,0.05], datum.value) >= 0 ? format(datum.value, '.2f') : ''","title":["Dose-normalized concentration","[ng/mL/mg]"],"titleX":-128.5,"titleY":205.5,"titleAngle":270,"titleAlign":"center","titleBaseline":"bottom","titleLineHeight":28}},
"color":{"field":"s","type":"nominal","legend":{"title":null,"orient":"none","legendX":429,"legendY":57,"symbolType":"M-1,0L-0.4,0M0.4,0L1,0M0.4,0A0.4,0.4,0,1,1,-0.4,0A0.4,0.4,0,1,1,0.4,0ZM0.4,0A0.4,0.4,0,1,0,-0.4,0A0.4,0.4,0,1,0,0.4,0Z","symbolSize":441,"symbolStrokeWidth":2,"symbolOpacity":1,"labelFont":"Liberation Sans","labelFontSize":24.5,"labelColor":"black","labelLimit":0,"rowPadding":5.5,"labelOffset":7,"padding":0}}}}
]},
{
"width":619,"height":412,
"resolve":{"axis":{"x":"independent","y":"independent"}},
"layer":[
{"data":{"values":[{"d":0.42},{"d":7.29},{"d":14.15},{"d":28.0}]},
"mark":{"type":"point","shape":"triangle-down","filled":false,"color":"black","strokeWidth":1.5,"size":225,"opacity":1},
"encoding":{"x":{"field":"d","type":"quantitative","scale":{"domain":[-0.72,29.07],"nice":false,"zero":false},"axis":null},"y":{"datum":192,"type":"quantitative","scale":{"type":"log","domain":[0.0353,283.5],"nice":false},"axis":null}}},
{"data":{"name":"pc"},
"mark":{"type":"errorbar","ticks":{"size":15,"thickness":2},"thickness":2},
"encoding":{"x":{"field":"d","type":"quantitative","axis":null},"y":{"field":"lo","type":"quantitative","axis":null},"y2":{"field":"hi"},
"color":{"field":"s","type":"nominal","scale":{"domain":["C16002 (IV)","C16004 (PO)","C16005 (PO)","C16007 (PO)","C16013 (PO)","TB-MC010034 (PO)"],"range":["#a81b0f","#a6f0ea","#76e828","#f4a12a","#7b3de6","#c4c8cc"]}}}},
{"data":{"name":"pc"},
"mark":{"type":"line","strokeWidth":2},
"encoding":{"x":{"field":"d","type":"quantitative","axis":{"orient":"top","labels":false,"ticks":false,"domain":false,"title":"28-day treatment cycles (W dosing)","titleFontWeight":"bold","titleFontSize":25,"titleX":305.5,"titleY":-23,"titleAlign":"center","titleBaseline":"alphabetic"}},
"y":{"field":"m","type":"quantitative","axis":{"orient":"right","labels":false,"ticks":false,"domain":false,"title":"c","titleAngle":0,"titleFontWeight":"bold","titleFontSize":27,"titleX":-743.5,"titleY":-21,"titleAlign":"center","titleBaseline":"alphabetic"}},
"color":{"field":"s","type":"nominal"},"detail":{"field":"g","type":"nominal"}}},
{"data":{"name":"pc"},
"mark":{"type":"point","filled":false,"strokeWidth":2,"size":45,"opacity":1},
"encoding":{"x":{"field":"d","type":"quantitative","axis":{"orient":"bottom","values":[0,1,2,3,4,5,6,7,8,9,10,11,12,13,14,15,16,17,18,19,20,21,22,23,24,25,26,27,28],"labelExpr":"datum.value === 0 ? 'C1D1' : datum.value === 7 ? 'C1D8' : datum.value === 14 ? 'C1D15' : datum.value === 21 ? 'C1D22' : datum.value === 28 ? 'C2D1' : ''","labelPadding":12.5,"title":"Study day","titleY":84.7,"titleBaseline":"alphabetic"}},
"y":{"field":"m","type":"quantitative","axis":{"orient":"left","values":[100,50,10,5,1,0.5,0.1,0.05],"labelExpr":"indexof([50,5,0.5,0.05], datum.value) >= 0 ? format(datum.value, '.2f') : ''","title":["Dose-normalized concentration","[ng/mL/mg]"],"titleX":-128.5,"titleY":206,"titleAngle":270,"titleAlign":"center","titleBaseline":"bottom","titleLineHeight":28}},
"color":{"field":"s","type":"nominal","legend":{"title":null,"orient":"none","legendX":363,"legendY":13,"symbolType":"M-1,0L-0.4,0M0.4,0L1,0M0.4,0A0.4,0.4,0,1,1,-0.4,0A0.4,0.4,0,1,1,0.4,0ZM0.4,0A0.4,0.4,0,1,0,-0.4,0A0.4,0.4,0,1,0,0.4,0Z","symbolSize":441,"symbolStrokeWidth":2,"symbolOpacity":1,"labelFont":"Liberation Sans","labelFontSize":24.5,"labelColor":"black","labelLimit":0,"rowPadding":5.5,"labelOffset":7,"padding":0}}}}
]}
]
}
